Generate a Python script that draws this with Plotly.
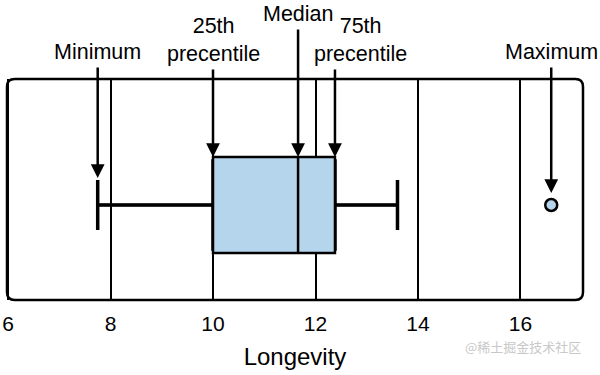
import plotly.graph_objects as go

# data
q1 = [10.0]
median = [11.66]
q3 = [12.38]
lowerfence = [7.75]
upperfence = [13.6]
outlier_x = [16.6]
tick_vals = [6, 8, 10, 12, 14, 16]
labels = ["Minimum", "25th<br>precentile", "Median", "75th<br>precentile", "Maximum"]
label_x = [7.75, 10.0, 11.66, 12.38, 16.6]

# annotation layout (pixels / paper coords)
tip_y = [0.27, 0.48, 0.48, 0.48, 0.12]       # arrow tips in y data units
arrow_ay = [-112, -89, -129, -89, -127]       # arrow tail offsets (px)
text_y = [1.122, 1.176, 1.294, 1.176, 1.122]  # text centres (paper)
text_xshift = [0, 0, 0, 26, 0]

FONT = "Liberation Sans, Arial, sans-serif"
FILL = "#b5d5ec"

fig = go.Figure()
# thick whiskers layer
fig.add_trace(go.Box(
    y=[0], q1=q1, median=median, q3=q3,
    lowerfence=lowerfence, upperfence=upperfence,
    orientation="h", width=0.88, whiskerwidth=0.57,
    fillcolor=FILL, line=dict(color="black", width=3.5),
    boxpoints=False, showlegend=False, hoverinfo="skip",
))
# box layer
fig.add_trace(go.Box(
    y=[0], q1=q1, median=median, q3=q3,
    lowerfence=lowerfence, upperfence=upperfence,
    orientation="h", width=0.96, whiskerwidth=0.0,
    fillcolor=FILL, line=dict(color="black", width=2.5),
    boxpoints=False, showlegend=False, hoverinfo="skip",
))
fig.add_trace(go.Scatter(
    x=outlier_x, y=[0], mode="markers",
    marker=dict(size=12, color=FILL, line=dict(color="black", width=2.5)),
    showlegend=False, hoverinfo="skip",
))

for t, x, ty, ay, tyy, xs in zip(labels, label_x, tip_y, arrow_ay, text_y, text_xshift):
    fig.add_annotation(
        x=x, y=ty, xref="x", yref="y", text="", showarrow=True,
        ax=0, ay=ay, arrowhead=2, arrowsize=1.1, arrowwidth=2.5,
        arrowcolor="black", standoff=0,
    )
    fig.add_annotation(
        x=x, y=tyy, xref="x", yref="paper", text=t, showarrow=False,
        xanchor="center", yanchor="middle", xshift=xs,
        font=dict(family=FONT, size=21.5, color="black"),
    )

fig.add_annotation(
    x=1.0, y=-0.21, xref="paper", yref="paper", xanchor="right", yanchor="middle",
    text="@稀土掘金技术社区", showarrow=False,
    font=dict(family="Noto Sans CJK SC", size=13, color="#c8c8c8"),
)

# rounded plot border
r = 0.035
rx = r * 221 / 576
fig.add_shape(
    type="path", xref="paper", yref="paper", layer="above",
    path=(f"M {rx},0 L {1-rx},0 Q 1,0 1,{r} L 1,{1-r} Q 1,1 {1-rx},1 "
          f"L {rx},1 Q 0,1 0,{1-r} L 0,{r} Q 0,0 {rx},0 Z"),
    line=dict(color="black", width=2.5),
)

fig.update_layout(
    width=600, height=375,
    margin=dict(l=7, r=17, t=79, b=75, autoexpand=False),
    plot_bgcolor="white", paper_bgcolor="white",
    boxmode="overlay",
    xaxis=dict(
        range=[5.98, 17.22], tickvals=tick_vals, showgrid=True, automargin=False,
        gridcolor="black", gridwidth=1.5, zeroline=False, showline=False,
        ticks="", ticklabelstandoff=9,
        tickfont=dict(family=FONT, size=21, color="black"),
        title=dict(text="Longevity", font=dict(family=FONT, size=24, color="black"), standoff=14),
    ),
    yaxis=dict(range=[-0.95, 1.26], visible=False, showgrid=False, zeroline=False),
)

fig.write_html("out.html", config={"displayModeBar": False},
               post_script="document.body.style.margin='0px';")
